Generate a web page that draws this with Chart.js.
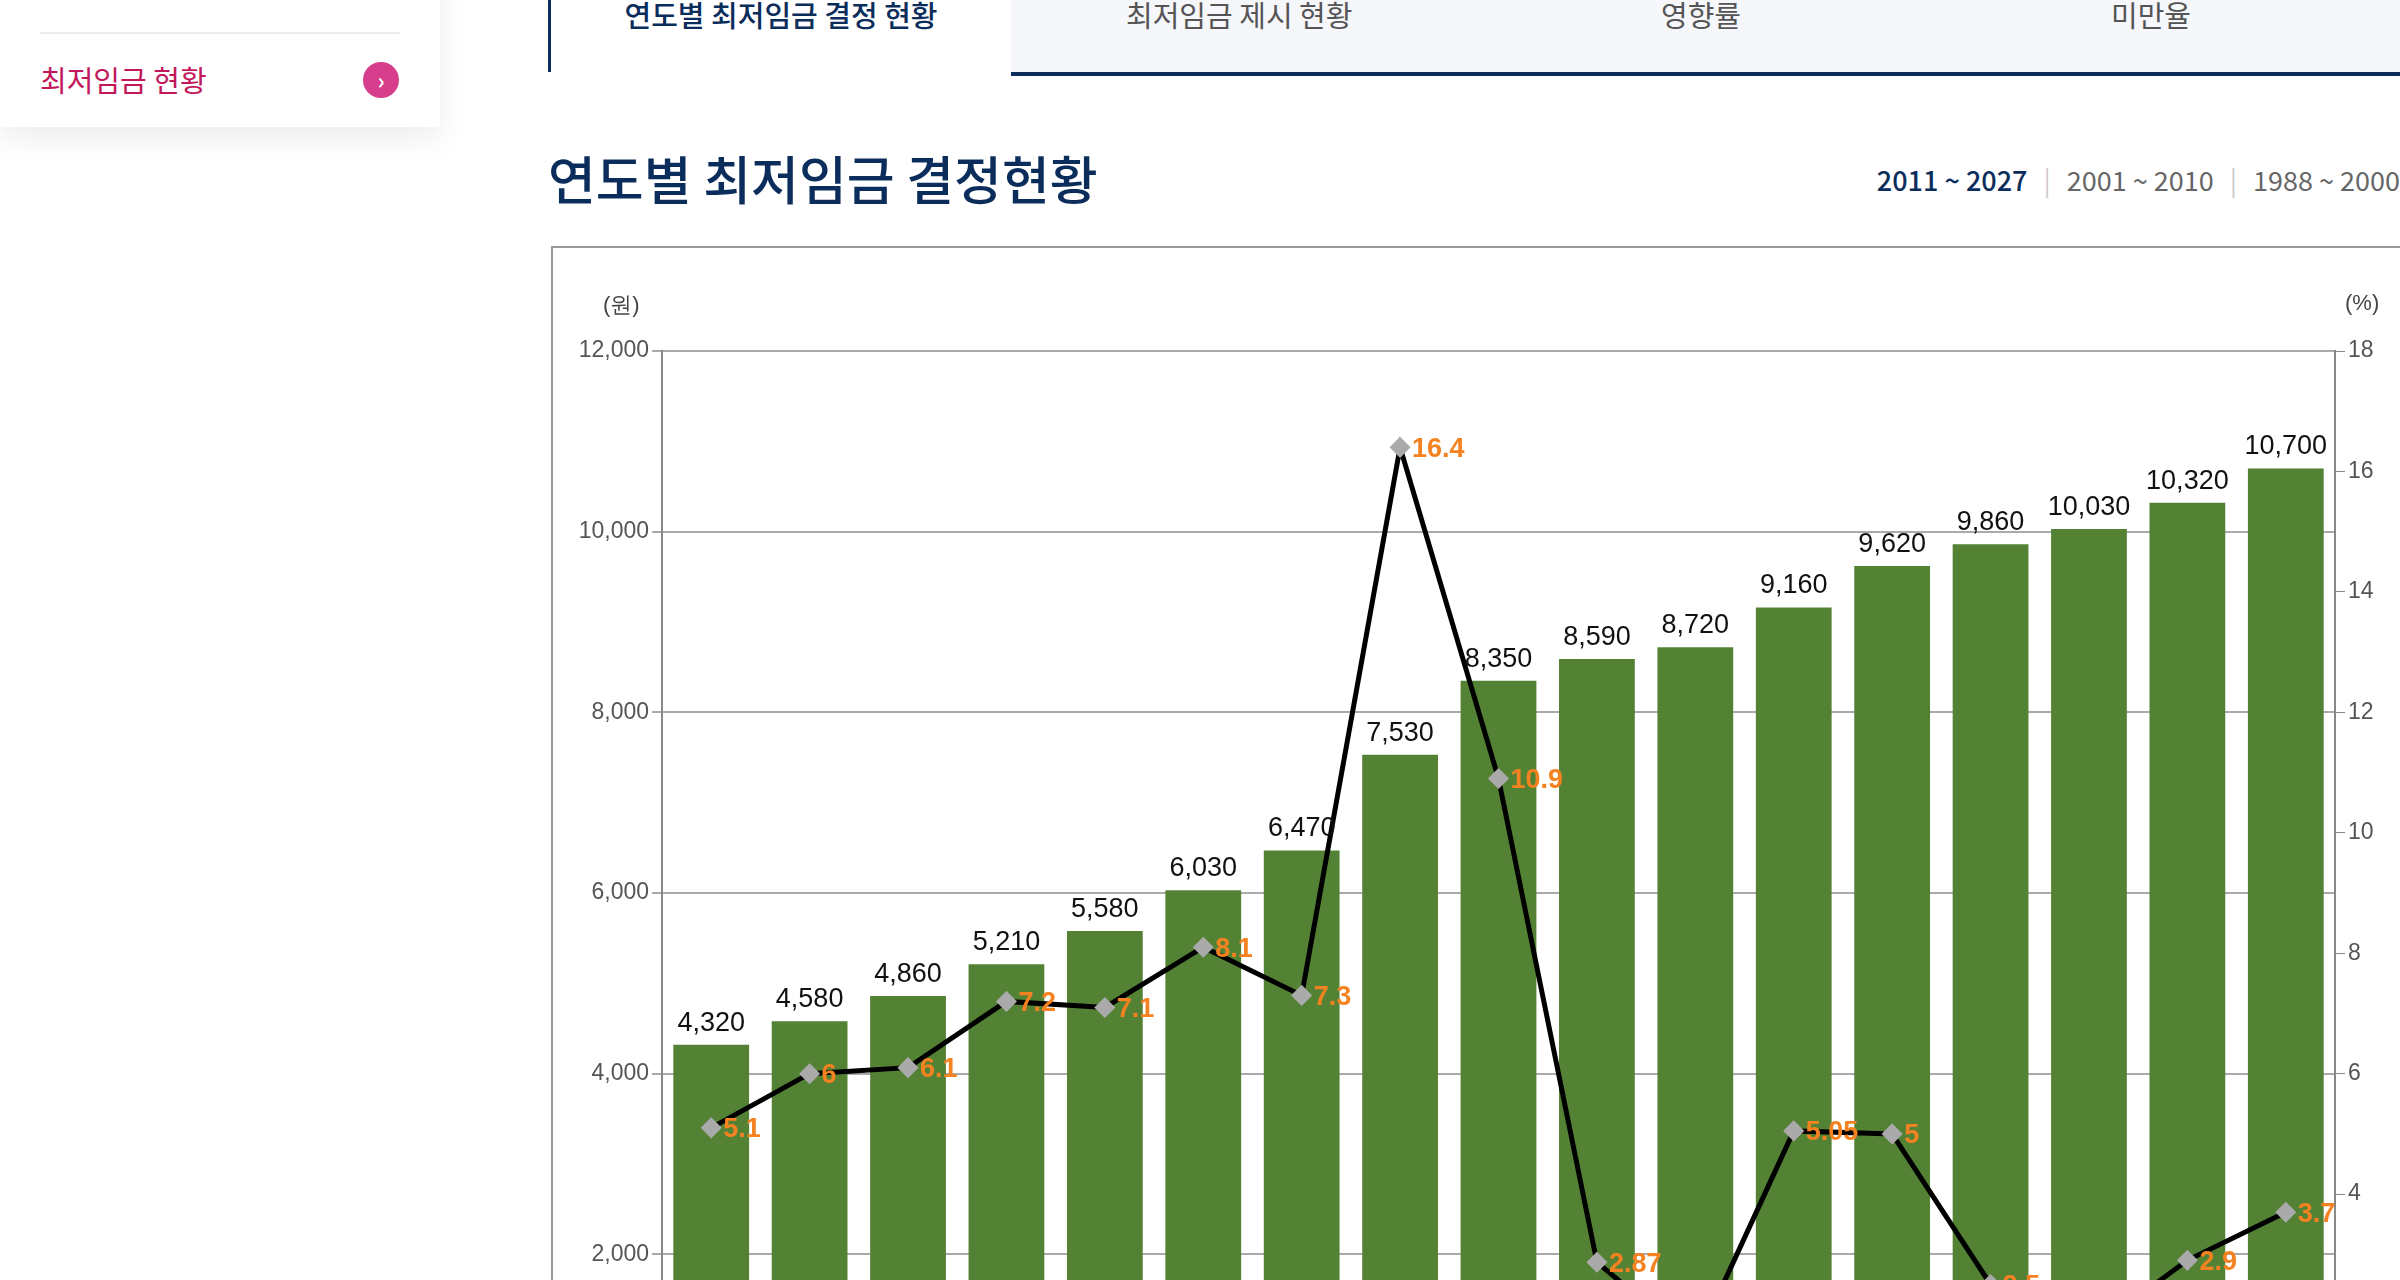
<!DOCTYPE html>
<html><head><meta charset="utf-8">
<script src="https://cdn.jsdelivr.net/npm/chart.js@4"></script>
<style>
html,body{margin:0;width:2400px;height:1280px;overflow:hidden;background:#fff;font-family:"Noto Sans CJK KR","Noto Sans",sans-serif;}
.side{position:absolute;left:0;top:-20px;width:440px;height:147px;background:#fff;box-shadow:0 10px 30px rgba(0,0,0,0.08);}
.side .line{position:absolute;left:40px;top:52px;width:360px;height:2px;background:#ececec;}
.side .txt{position:absolute;left:40px;top:78px;font-size:29px;color:#c2185b;}
.side .ic{position:absolute;left:363px;top:82px;width:36px;height:36px;border-radius:50%;background:#d63d8a;color:#fff;font-size:22px;text-align:center;line-height:34px;font-weight:bold;}
.tab{position:absolute;top:-10px;height:82px;font-size:29px;text-align:center;line-height:48px;}
.t1{left:548px;width:460px;border-left:3px solid #0b2d5b;border-right:3px solid #0b2d5b;color:#0b2d5b;font-weight:500;background:#fff;}
.t2{left:1011px;width:1400px;background:#f5f7fb;border-bottom:4px solid #0b2d5b;color:#555;}
.t2 span{position:absolute;top:0;}
h1{position:absolute;left:548px;top:140px;margin:0;font-size:52px;font-weight:500;color:#0b2d5b;}
.range{position:absolute;right:0;top:160px;font-size:27px;color:#666;white-space:nowrap;}
.range b{color:#0b2d5b;font-weight:500;}
.range i{font-style:normal;color:#ccc;margin:0 16px;}
.box{position:absolute;left:551px;top:246px;width:1900px;height:1260px;border:2px solid #9a9a9a;}
.wrap{position:absolute;left:0;top:0;width:1900px;height:1247px;}
.unit{position:absolute;top:290px;font-size:22px;color:#444;font-family:"Liberation Sans",sans-serif;}
</style></head><body>
<div class="side"><div class="line"></div><div class="txt">최저임금 현황</div><div class="ic">›</div></div>
<div class="tab t1">연도별 최저임금 결정 현황</div>
<div class="tab t2"><span style="left:115px">최저임금 제시 현황</span><span style="left:650px">영향률</span><span style="left:1100px">미만율</span></div>
<h1>연도별 최저임금 결정현황</h1>
<div class="range"><b>2011 ~ 2027</b><i>|</i>2001 ~ 2010<i>|</i>1988 ~ 2000</div>
<div class="box"><div class="wrap"><canvas id="c"></canvas></div></div>
<div class="unit" style="left:603px">(원)</div>
<div class="unit" style="left:2345px">(%)</div>
<script>
const years=['2011','2012','2013','2014','2015','2016','2017','2018','2019','2020','2021','2022','2023','2024','2025','2026','2027'];
const wages=[4320,4580,4860,5210,5580,6030,6470,7530,8350,8590,8720,9160,9620,9860,10030,10320,10700];
const rates=[5.1,6,6.1,7.2,7.1,8.1,7.3,16.4,10.9,2.87,1.5,5.05,5,2.5,1.7,2.9,3.7];
const lbl={id:'lbl',afterDatasetsDraw(ch){const c=ch.ctx;c.save();
 const mb=ch.getDatasetMeta(1);c.font='27px "Liberation Sans"';c.fillStyle='#111';c.textAlign='center';c.textBaseline='bottom';
 mb.data.forEach((b,i)=>c.fillText(wages[i].toLocaleString('en-US'),b.x,b.y-8));
 const ml=ch.getDatasetMeta(0);c.font='bold 27px "Liberation Sans"';c.fillStyle='#f58220';c.textAlign='left';c.textBaseline='middle';
 ml.data.forEach((p,i)=>c.fillText(String(rates[i]),p.x+12,p.y+2));c.restore();}};
new Chart(document.getElementById('c'),{
 data:{labels:years,datasets:[
  {type:'line',data:rates,yAxisID:'y2',borderColor:'#000',borderWidth:5,pointStyle:'rectRot',pointRadius:7,pointBackgroundColor:'#aaa',pointBorderColor:'#aaa',order:0},
  {type:'bar',data:wages,yAxisID:'y',backgroundColor:'#548235',categoryPercentage:1,barPercentage:0.77,order:1}]},
 options:{responsive:true,maintainAspectRatio:false,animation:false,layout:{padding:{top:103,left:0,right:0,bottom:0}},
  plugins:{legend:{display:false},tooltip:{enabled:false}},
  scales:{
   x:{grid:{display:false},border:{color:'#888',width:2},ticks:{font:{size:22,family:'Liberation Sans'},color:'#444'},afterFit(s){s.height=60;}},
   y:{position:'left',min:0,max:12000,ticks:{stepSize:2000,font:{size:23,family:'Liberation Sans'},color:'#555',callback:v=>v.toLocaleString('en-US')},grid:{color:'#aaa',lineWidth:2,tickLength:10},border:{color:'#888',width:2},afterFit(s){s.width=109;}},
   y2:{position:'right',min:0,max:18,ticks:{stepSize:2,font:{size:23,family:'Liberation Sans'},color:'#555'},grid:{drawOnChartArea:false,color:'#888',tickLength:10},border:{color:'#888',width:2},afterFit(s){s.width=118;}}
  }},plugins:[lbl]});
</script></body></html>
